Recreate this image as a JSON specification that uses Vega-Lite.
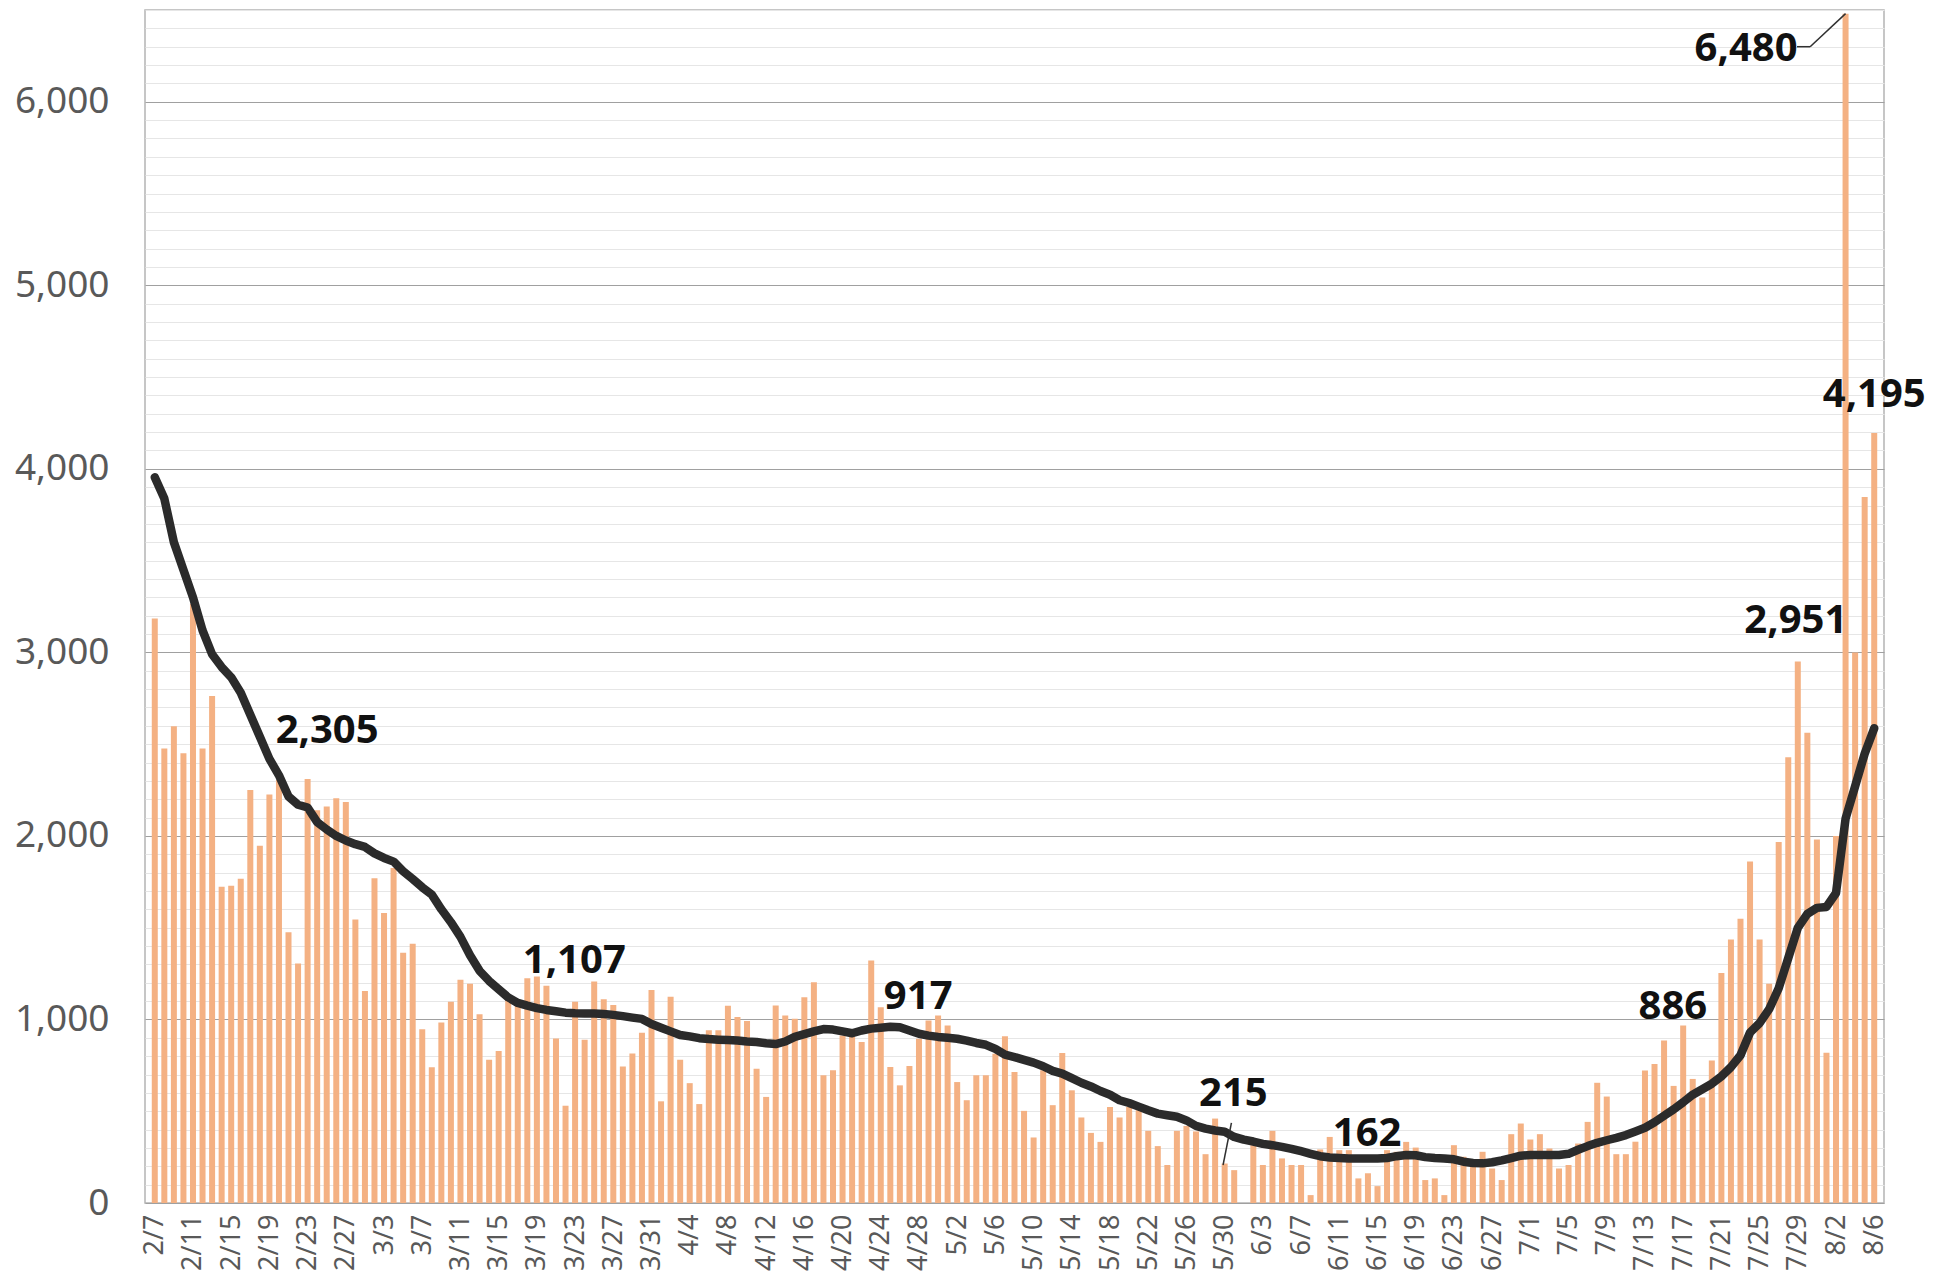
{
  "$schema": "https://vega.github.io/schema/vega-lite/v6.json",
  "width": 1739,
  "height": 1193,
  "autosize": {"type": "none"},
  "padding": {"left": 145, "top": 10, "right": 70, "bottom": 74},
  "background": "white",
  "config": {"view": {"stroke": "#b4b4b4", "strokeWidth": 1.5}, "font": "Noto Sans"},
  "datasets": {
    "daily": [
      {"d":"2021-02-07","n":3185,"m":3954},{"d":"2021-02-08","n":2476,"m":3838},{"d":"2021-02-09","n":2597,"m":3600},{"d":"2021-02-10","n":2451,"m":3450},{"d":"2021-02-11","n":3265,"m":3300},{"d":"2021-02-12","n":2476,"m":3120},{"d":"2021-02-13","n":2762,"m":2990},{"d":"2021-02-14","n":1723,"m":2920},{"d":"2021-02-15","n":1728,"m":2864},{"d":"2021-02-16","n":1767,"m":2780},{"d":"2021-02-17","n":2250,"m":2660},{"d":"2021-02-18","n":1947,"m":2540},{"d":"2021-02-19","n":2226,"m":2420},{"d":"2021-02-20","n":2305,"m":2330},{"d":"2021-02-21","n":1475,"m":2215},{"d":"2021-02-22","n":1305,"m":2170},{"d":"2021-02-23","n":2310,"m":2155},{"d":"2021-02-24","n":2140,"m":2075},{"d":"2021-02-25","n":2160,"m":2035},{"d":"2021-02-26","n":2205,"m":2000},{"d":"2021-02-27","n":2185,"m":1975},{"d":"2021-02-28","n":1545,"m":1955},
      {"d":"2021-03-01","n":1155,"m":1940},{"d":"2021-03-02","n":1770,"m":1905},{"d":"2021-03-03","n":1580,"m":1880},{"d":"2021-03-04","n":1825,"m":1860},{"d":"2021-03-05","n":1364,"m":1808},{"d":"2021-03-06","n":1413,"m":1765},{"d":"2021-03-07","n":947,"m":1720},{"d":"2021-03-08","n":740,"m":1680},{"d":"2021-03-09","n":983,"m":1600},{"d":"2021-03-10","n":1097,"m":1530},{"d":"2021-03-11","n":1216,"m":1450},{"d":"2021-03-12","n":1194,"m":1350},{"d":"2021-03-13","n":1029,"m":1265},{"d":"2021-03-14","n":781,"m":1210},{"d":"2021-03-15","n":828,"m":1165},{"d":"2021-03-16","n":1115,"m":1120},{"d":"2021-03-17","n":1097,"m":1090},{"d":"2021-03-18","n":1225,"m":1075},{"d":"2021-03-19","n":1234,"m":1062},{"d":"2021-03-20","n":1183,"m":1052},{"d":"2021-03-21","n":896,"m":1045},{"d":"2021-03-22","n":530,"m":1037},{"d":"2021-03-23","n":1097,"m":1034},{"d":"2021-03-24","n":890,"m":1033},{"d":"2021-03-25","n":1207,"m":1032},{"d":"2021-03-26","n":1110,"m":1030},{"d":"2021-03-27","n":1079,"m":1025},{"d":"2021-03-28","n":744,"m":1018},{"d":"2021-03-29","n":814,"m":1010},{"d":"2021-03-30","n":927,"m":1003},{"d":"2021-03-31","n":1161,"m":975},
      {"d":"2021-04-01","n":554,"m":955},{"d":"2021-04-02","n":1124,"m":935},{"d":"2021-04-03","n":781,"m":915},{"d":"2021-04-04","n":653,"m":908},{"d":"2021-04-05","n":539,"m":898},{"d":"2021-04-06","n":941,"m":893},{"d":"2021-04-07","n":941,"m":890},{"d":"2021-04-08","n":1075,"m":888},{"d":"2021-04-09","n":1013,"m":885},{"d":"2021-04-10","n":991,"m":880},{"d":"2021-04-11","n":732,"m":877},{"d":"2021-04-12","n":578,"m":870},{"d":"2021-04-13","n":1076,"m":866},{"d":"2021-04-14","n":1022,"m":880},{"d":"2021-04-15","n":1004,"m":905},{"d":"2021-04-16","n":1121,"m":920},{"d":"2021-04-17","n":1203,"m":935},{"d":"2021-04-18","n":696,"m":948},{"d":"2021-04-19","n":723,"m":945},{"d":"2021-04-20","n":913,"m":935},{"d":"2021-04-21","n":904,"m":925},{"d":"2021-04-22","n":877,"m":940},{"d":"2021-04-23","n":1321,"m":950},{"d":"2021-04-24","n":1067,"m":955},{"d":"2021-04-25","n":741,"m":960},{"d":"2021-04-26","n":641,"m":958},{"d":"2021-04-27","n":746,"m":940},{"d":"2021-04-28","n":895,"m":922},{"d":"2021-04-29","n":995,"m":912},{"d":"2021-04-30","n":1022,"m":905},
      {"d":"2021-05-01","n":967,"m":900},{"d":"2021-05-02","n":659,"m":895},{"d":"2021-05-03","n":560,"m":885},{"d":"2021-05-04","n":696,"m":872},{"d":"2021-05-05","n":696,"m":862},{"d":"2021-05-06","n":813,"m":840},{"d":"2021-05-07","n":908,"m":808},{"d":"2021-05-08","n":714,"m":795},{"d":"2021-05-09","n":502,"m":780},{"d":"2021-05-10","n":357,"m":765},{"d":"2021-05-11","n":723,"m":745},{"d":"2021-05-12","n":533,"m":720},{"d":"2021-05-13","n":817,"m":705},{"d":"2021-05-14","n":614,"m":680},{"d":"2021-05-15","n":466,"m":655},{"d":"2021-05-16","n":382,"m":635},{"d":"2021-05-17","n":333,"m":610},{"d":"2021-05-18","n":523,"m":590},{"d":"2021-05-19","n":466,"m":560},{"d":"2021-05-20","n":523,"m":545},{"d":"2021-05-21","n":505,"m":525},{"d":"2021-05-22","n":393,"m":505},{"d":"2021-05-23","n":310,"m":487},{"d":"2021-05-24","n":207,"m":478},{"d":"2021-05-25","n":393,"m":470},{"d":"2021-05-26","n":420,"m":450},{"d":"2021-05-27","n":390,"m":420},{"d":"2021-05-28","n":266,"m":405},{"d":"2021-05-29","n":460,"m":395},{"d":"2021-05-30","n":215,"m":388},{"d":"2021-05-31","n":179,"m":360},
      {"d":"2021-06-01","n":0,"m":345},{"d":"2021-06-02","n":315,"m":335},{"d":"2021-06-03","n":207,"m":322},{"d":"2021-06-04","n":393,"m":315},{"d":"2021-06-05","n":243,"m":306},{"d":"2021-06-06","n":207,"m":295},{"d":"2021-06-07","n":207,"m":282},{"d":"2021-06-08","n":43,"m":268},{"d":"2021-06-09","n":292,"m":255},{"d":"2021-06-10","n":360,"m":248},{"d":"2021-06-11","n":288,"m":245},{"d":"2021-06-12","n":288,"m":243},{"d":"2021-06-13","n":134,"m":242},{"d":"2021-06-14","n":162,"m":242},{"d":"2021-06-15","n":92,"m":242},{"d":"2021-06-16","n":288,"m":245},{"d":"2021-06-17","n":279,"m":255},{"d":"2021-06-18","n":333,"m":262},{"d":"2021-06-19","n":302,"m":260},{"d":"2021-06-20","n":125,"m":250},{"d":"2021-06-21","n":134,"m":245},{"d":"2021-06-22","n":43,"m":243},{"d":"2021-06-23","n":315,"m":238},{"d":"2021-06-24","n":252,"m":225},{"d":"2021-06-25","n":234,"m":218},{"d":"2021-06-26","n":279,"m":216},{"d":"2021-06-27","n":188,"m":222},{"d":"2021-06-28","n":125,"m":232},{"d":"2021-06-29","n":375,"m":245},{"d":"2021-06-30","n":433,"m":258},
      {"d":"2021-07-01","n":346,"m":262},{"d":"2021-07-02","n":375,"m":262},{"d":"2021-07-03","n":297,"m":262},{"d":"2021-07-04","n":188,"m":262},{"d":"2021-07-05","n":207,"m":268},{"d":"2021-07-06","n":324,"m":290},{"d":"2021-07-07","n":442,"m":310},{"d":"2021-07-08","n":655,"m":328},{"d":"2021-07-09","n":580,"m":342},{"d":"2021-07-10","n":266,"m":355},{"d":"2021-07-11","n":266,"m":370},{"d":"2021-07-12","n":334,"m":390},{"d":"2021-07-13","n":722,"m":410},{"d":"2021-07-14","n":757,"m":440},{"d":"2021-07-15","n":886,"m":475},{"d":"2021-07-16","n":638,"m":510},{"d":"2021-07-17","n":967,"m":549},{"d":"2021-07-18","n":676,"m":590},{"d":"2021-07-19","n":575,"m":620},{"d":"2021-07-20","n":777,"m":650},{"d":"2021-07-21","n":1253,"m":690},{"d":"2021-07-22","n":1435,"m":740},{"d":"2021-07-23","n":1549,"m":805},{"d":"2021-07-24","n":1861,"m":929},{"d":"2021-07-25","n":1435,"m":980},{"d":"2021-07-26","n":1195,"m":1056},{"d":"2021-07-27","n":1967,"m":1170},{"d":"2021-07-28","n":2428,"m":1334},{"d":"2021-07-29","n":2951,"m":1499},{"d":"2021-07-30","n":2562,"m":1575},{"d":"2021-07-31","n":1980,"m":1608},
      {"d":"2021-08-01","n":818,"m":1613},{"d":"2021-08-02","n":2000,"m":1689},{"d":"2021-08-03","n":6480,"m":2094},{"d":"2021-08-04","n":3000,"m":2271},{"d":"2021-08-05","n":3847,"m":2448},{"d":"2021-08-06","n":4195,"m":2587}
    ],
    "notes": [
      {"d":"2021-02-25T01:00:00Z","y":2570,"t":"2,305"},
      {"d":"2021-03-22T22:00:00Z","y":1316,"t":"1,107"},
      {"d":"2021-04-27T22:00:00Z","y":1125,"t":"917"},
      {"d":"2021-05-30T22:00:00Z","y":592,"t":"215"},
      {"d":"2021-06-13T22:00:00Z","y":375,"t":"162"},
      {"d":"2021-07-15T22:00:00Z","y":1068,"t":"886"},
      {"d":"2021-07-28T19:00:00Z","y":3170,"t":"2,951"},
      {"d":"2021-07-23T14:00:00Z","y":6290,"t":"6,480"},
      {"d":"2021-08-06T00:00:00Z","y":4401,"t":"4,195"}
    ],
    "leaders": [
      {"d":"2021-07-28T22:00:00Z","d2":"2021-07-30T07:00:00Z","y":6300,"y2":6300},
      {"d":"2021-07-30T07:00:00Z","d2":"2021-08-03T00:00:00Z","y":6300,"y2":6480},
      {"d":"2021-05-30T17:00:00Z","d2":"2021-05-29T20:00:00Z","y":436,"y2":207}
    ]
  },
  "layer": [
    {
      "data": {"name": "daily"},
      "mark": {"type": "bar", "width": 6, "color": "#F4B183"},
      "encoding": {
        "x": {
          "field": "d", "type": "temporal",
          "scale": {"type": "utc", "domain": [{"year": 2021, "month": 2, "date": 6, "hours": 12, "utc": true}, {"year": 2021, "month": 8, "date": 6, "hours": 12, "utc": true}]},
          "axis": {
            "tickCount": {"interval": "day", "step": 1},
            "labelExpr": "round((datum.value - utc(2021,1,7)) / 86400000) % 4 === 0 ? utcFormat(datum.value, '%-m/%-d') : ''",
            "labelAngle": -90, "labelFontSize": 27, "labelColor": "#595959", "labelPadding": 11,
            "labelOverlap": false, "labelFlush": false, "labelBound": false,
            "ticks": false, "domain": false, "grid": false, "title": null
          }
        },
        "y": {
          "field": "n", "type": "quantitative",
          "scale": {"domain": [0, 6500], "nice": false},
          "axis": {
            "tickCount": 65,
            "labelExpr": "datum.value % 1000 === 0 ? format(datum.value, ',') : ''",
            "gridColor": {"condition": {"test": "datum.value % 1000 === 0", "value": "#a0a0a0"}, "value": "#e6e6e6"},
            "gridWidth": 1.2,
            "labelFontSize": 37, "labelColor": "#595959", "labelPadding": 36,
            "labelOverlap": false, "labelFlush": false, "labelBound": false,
            "ticks": false, "domain": false, "title": null
          }
        }
      }
    },
    {
      "data": {"name": "daily"},
      "mark": {"type": "line", "color": "#2b2b2b", "strokeWidth": 8.5, "strokeCap": "round", "strokeJoin": "round"},
      "encoding": {
        "x": {"field": "d", "type": "temporal"},
        "y": {"field": "m", "type": "quantitative"}
      }
    },
    {
      "data": {"name": "leaders"},
      "mark": {"type": "rule", "color": "#303030", "strokeWidth": 1.5},
      "encoding": {
        "x": {"field": "d", "type": "temporal"},
        "x2": {"field": "d2"},
        "y": {"field": "y", "type": "quantitative"},
        "y2": {"field": "y2"}
      }
    },
    {
      "data": {"name": "notes"},
      "mark": {"type": "text", "fontSize": 40, "fontWeight": "bold", "color": "#111111", "align": "center", "baseline": "middle"},
      "encoding": {
        "x": {"field": "d", "type": "temporal"},
        "y": {"field": "y", "type": "quantitative"},
        "text": {"field": "t"}
      }
    }
  ]
}
